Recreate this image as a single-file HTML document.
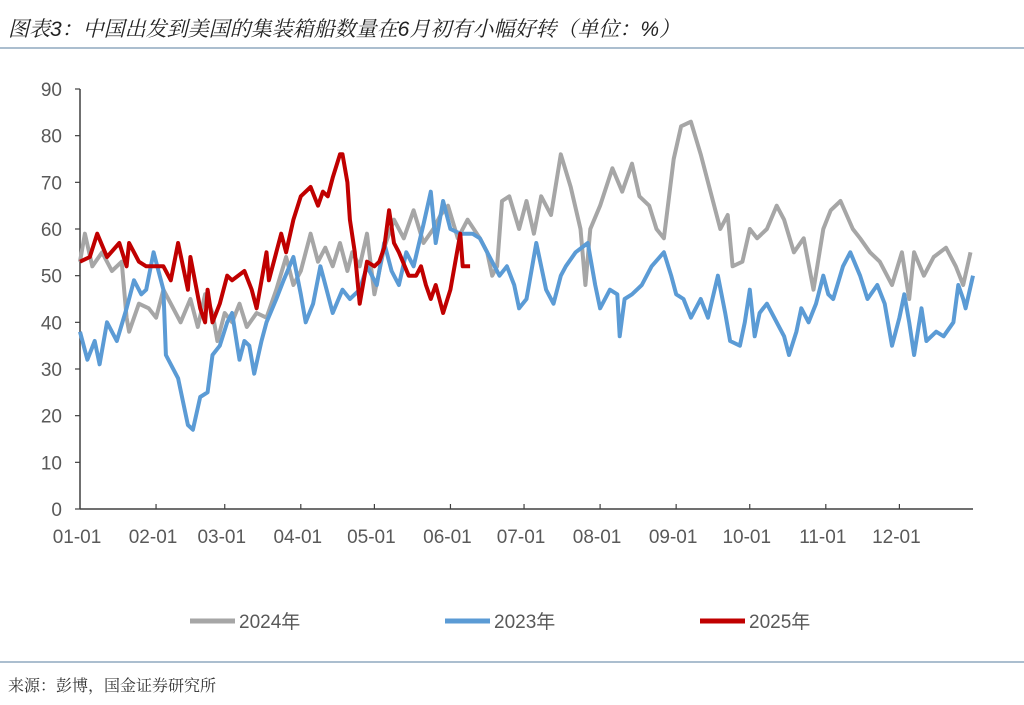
<!DOCTYPE html>
<html><head><meta charset="utf-8"><style>
body{margin:0;background:#fff;width:1024px;height:700px;overflow:hidden;font-family:"Liberation Sans","Noto Sans CJK SC",sans-serif}
</style></head><body>
<svg width="1024" height="700" xmlns="http://www.w3.org/2000/svg">
<text x="8" y="36" font-size="21" font-style="italic" fill="#222" font-family="Liberation Sans,Noto Serif CJK SC,serif">图表3：中国出发到美国的集装箱船数量在6月初有小幅好转（单位：%）</text>
<line x1="0" y1="48" x2="1024" y2="48" stroke="#8fa9bf" stroke-width="1.5"/>
<g id="axes"></g>
<g id="series"></g>
<g>
<line x1="190" y1="621" x2="235" y2="621" stroke="#a6a6a6" stroke-width="5"/>
<text x="239" y="628" font-size="19" fill="#595959">2024年</text>
<line x1="445" y1="621" x2="490" y2="621" stroke="#5b9bd5" stroke-width="5"/>
<text x="494" y="628" font-size="19" fill="#595959">2023年</text>
<line x1="700" y1="621" x2="745" y2="621" stroke="#c00000" stroke-width="5"/>
<text x="749" y="628" font-size="19" fill="#595959">2025年</text>
</g>
<line x1="0" y1="662" x2="1024" y2="662" stroke="#8fa9bf" stroke-width="1.5"/>
<text x="8" y="691" font-size="16" fill="#333" font-family="Liberation Serif,Noto Serif CJK SC,serif">来源：彭博，国金证券研究所</text>
</svg>
<script>
const yTicks=[0,10,20,30,40,50,60,70,80,90];
const monthLabels=["01-01","02-01","03-01","04-01","05-01","06-01","07-01","08-01","09-01","10-01","11-01","12-01"];
const monthDays=[0,31,59,90,120,151,181,212,243,273,304,334];
const days2024=[0,2,5,9,13,17,19,20,24,28,31,34,37,41,45,48,51,54,56,59,62,65,68,72,76,80,84,87,90,94,97,100,103,106,109,111,114,117,120,124,128,132,136,140,144,147,150,154,158,163,166,168,170,172,175,179,182,185,188,192,196,200,204,206,208,212,217,221,225,228,232,235,238,242,245,249,253,257,261,264,266,270,273,276,280,284,287,291,295,299,303,306,310,315,318,322,326,331,335,338,340,344,348,353,357,360,363];
const vals2024=[53,59,52,55,51,53,41,38,44,43,41,47,44,40,45,39,46,42,36,42,40,44,39,42,41,47,54,48,51,59,53,56,52,57,51,55,52,59,46,56,62,58,64,57,60,63,65,58,62,58,55,50,52,66,67,60,66,59,67,63,76,69,60,48,60,65,73,68,74,67,65,60,58,75,82,83,76,68,60,63,52,53,60,58,60,65,62,55,58,47,60,64,66,60,58,55,53,48,55,45,55,50,54,56,52,48,55];
const days2023=[0,3,6,8,11,15,19,22,25,27,30,34,35,40,44,46,49,52,54,57,60,62,65,67,69,71,74,76,80,83,87,90,92,95,98,101,103,107,110,114,117,121,124,127,130,133,136,140,143,145,148,151,155,160,163,166,171,174,177,179,182,186,190,193,196,198,202,207,210,212,216,219,220,222,225,229,233,238,241,243,246,249,253,256,260,263,265,269,271,273,275,277,280,284,287,289,292,294,297,300,303,305,307,311,314,318,321,325,328,331,334,336,338,340,343,345,349,352,356,358,360,361,364];
const vals2023=[38,32,36,31,40,36,43,49,46,47,55,47,33,28,18,17,24,25,33,35,40,42,32,36,35,29,36,40,45,49,54,46,40,44,52,46,42,47,45,47,52,48,57,51,48,55,52,61,68,57,66,60,59,59,58,55,50,52,48,43,45,57,47,44,50,52,55,57,48,43,47,46,37,45,46,48,52,55,50,46,45,41,45,41,50,42,36,35,40,47,37,42,44,40,37,33,38,43,40,44,50,46,45,52,55,50,45,48,44,35,41,46,40,33,43,36,38,37,40,48,45,43,50];
const days2025=[0,4,7,11,16,19,20,24,27,30,34,37,40,44,45,49,51,52,54,57,60,62,67,70,72,76,77,80,82,84,87,90,94,97,99,101,103,106,107,109,110,112,114,117,120,122,124,126,128,130,134,137,139,141,143,145,148,151,155,156,159];
const vals2025=[53,54,59,54,57,52,57,53,52,52,52,49,57,47,54,43,40,47,40,44,50,49,51,47,43,55,49,55,59,55,62,67,69,65,68,67,71,76,76,70,62,55,44,53,52,53,56,64,57,55,50,50,52,48,45,48,42,47,59,52,52];

const NS="http://www.w3.org/2000/svg";
const X0=80,X1=973,Y0=509,Y90=89;
const xs=d=>X0+d*(X1-X0)/364;
const ys=v=>Y0-v*(Y0-Y90)/90;
function mk(tag,attrs,parent){const e=document.createElementNS(NS,tag);for(const k in attrs)e.setAttribute(k,attrs[k]);parent.appendChild(e);return e;}
const axes=document.getElementById('axes');
let e=mk('line',{x1:X0,y1:Y90,x2:X0,y2:Y0,stroke:'#404040','stroke-width':1.5},axes);


e=mk('line',{x1:X0,y1:Y0,x2:X1,y2:Y0,stroke:'#404040','stroke-width':1.5},axes);


yTicks.forEach(v=>{
  let t=mk('line',{x1:X0-5,y1:ys(v),x2:X0,y2:ys(v),stroke:'#404040','stroke-width':1.2},axes);
  
  
  let l=mk('text',{x:62,y:ys(v)+7,'text-anchor':'end','font-size':19,fill:'#595959'},axes);
  l.textContent=v;
  
  
});
monthDays.forEach((d,i)=>{
  if(i>0){let t=mk('line',{x1:xs(d),y1:Y0-5,x2:xs(d),y2:Y0,stroke:'#404040','stroke-width':1.2},axes);
  
  }
  let l=mk('text',{x:xs(d)-3,y:543,'text-anchor':'middle','font-size':19,fill:'#595959'},axes);
  l.textContent=monthLabels[i];
  
  
});
const sg=document.getElementById('series');
function line(days,vals,color,name){
  const p=days.map((d,i)=>(i?'L':'M')+xs(d).toFixed(1)+','+ys(vals[i]).toFixed(1)).join('');
  const el=mk('path',{d:p,fill:'none',stroke:color,'stroke-width':4,'stroke-linejoin':'round'},sg);
  
  
}
line(days2024,vals2024,'#a6a6a6','series-2024');
line(days2023,vals2023,'#5b9bd5','series-2023');
line(days2025,vals2025,'#c00000','series-2025');
</script>
</body></html>
